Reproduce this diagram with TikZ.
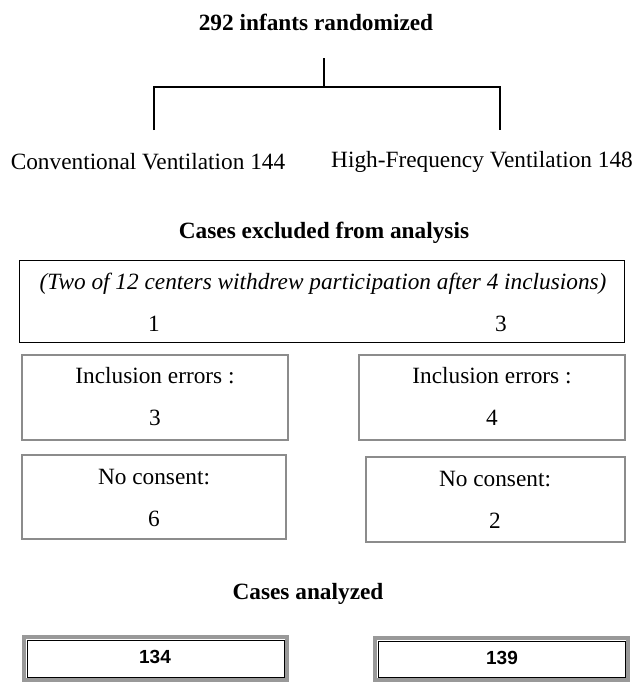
\documentclass[tikz,border=0pt]{standalone}
\usepackage{fontspec}
\setmainfont{Liberation Serif}
\newfontfamily\numfont{Liberation Sans}
\begin{document}
\begin{tikzpicture}[x=1pt,y=-1pt,
  txt/.style={inner sep=0pt, font=\fontsize{23.3}{27}\selectfont},
  btxt/.style={inner sep=0pt, font=\fontsize{23.3}{27}\selectfont\bfseries},
  bignum/.style={inner sep=0pt, font=\fontsize{19}{22}\selectfont\numfont\bfseries},
  plainbox/.style={draw=black, line width=0.9pt},
  greybox/.style={draw=black!45, line width=1.8pt},
  outerbox/.style={draw=black!40, line width=3.5pt},
  innerbox/.style={draw=black, line width=0.8pt},
  conn/.style={draw=black, line width=1.3pt}]
\useasboundingbox (0,0) rectangle (634,683);
% title and split
\node[btxt] (title) at (316,22) {292 infants randomized};
\coordinate (stubtop) at (324,58);
\coordinate (stubbot) at (324,87);
\coordinate (hl) at (154,87);
\coordinate (hr) at (500,87);
\coordinate (vl) at (154,130);
\coordinate (vr) at (500,130);
\draw[conn] (stubtop) -- (stubbot);
\draw[conn] (vl) -- (hl) -- (hr) -- (vr);
\node[txt] (conv) at (148,162) {Conventional Ventilation 144};
\node[txt] (hfv) at (482,162) {High-Frequency Ventilation 148};
% excluded
\node[btxt] (excl) at (324,233) {Cases excluded from analysis};
\draw[plainbox] (19,260) rectangle (624,342);
\node[txt, font=\fontsize{23.3}{27}\selectfont\itshape] (two) at (323,284) {(Two of 12 centers withdrew participation after 4 inclusions)};
\node[txt] (w1) at (154,324) {1};
\node[txt] (w3) at (501,324) {3};
% inclusion errors
\draw[greybox] (22,355) rectangle (288,440);
\draw[greybox] (359,355) rectangle (625,440);
\node[txt] (incl) at (155,376) {Inclusion errors :};
\node[txt] (incr) at (492,376) {Inclusion errors :};
\node[txt] (incln) at (155,418) {3};
\node[txt] (incrn) at (492,418) {4};
% no consent
\draw[greybox] (22,455) rectangle (286,539);
\draw[greybox] (366,457) rectangle (625,542);
\node[txt] (ncl) at (154,477) {No consent:};
\node[txt] (ncr) at (495,479) {No consent:};
\node[txt] (ncln) at (154,519) {6};
\node[txt] (ncrn) at (495,521) {2};
% analyzed
\node[btxt] (anal) at (308,594) {Cases analyzed};
\draw[outerbox] (24,637) rectangle (287,680);
\draw[innerbox] (27,640) rectangle (284,677);
\draw[outerbox] (375,638) rectangle (628,680);
\draw[innerbox] (378,641) rectangle (625,677);
\node[bignum] (n134) at (155,657) {134};
\node[bignum] (n139) at (502,658) {139};
\end{tikzpicture}
\end{document}
